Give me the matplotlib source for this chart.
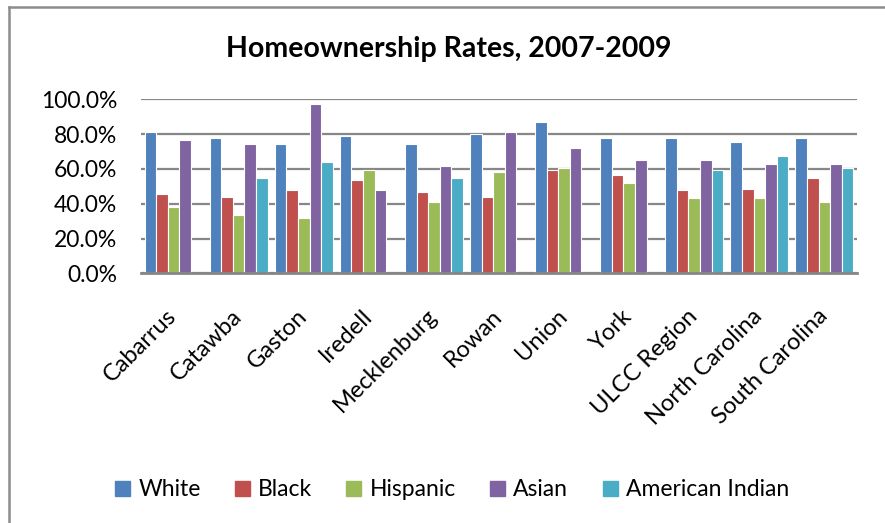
import matplotlib
matplotlib.use("Agg")
import matplotlib.pyplot as plt
from matplotlib.lines import Line2D
from matplotlib.ticker import FuncFormatter, MultipleLocator
from matplotlib.transforms import ScaledTranslation
import numpy as np

plt.rcParams['font.family'] = ['Lato', 'DejaVu Sans']

categories = ["Cabarrus", "Catawba", "Gaston", "Iredell", "Mecklenburg", "Rowan",
              "Union", "York", "ULCC Region", "North Carolina", "South Carolina"]
series_names = ["White", "Black", "Hispanic", "Asian", "American Indian"]

nan = np.nan
white = [81.0, 77.6, 74.1, 78.7, 74.1, 79.9, 86.8, 77.6, 77.6, 75.3, 77.6]
black = [45.4, 44.0, 47.7, 53.4, 46.6, 44.0, 59.2, 56.7, 47.7, 48.6, 54.6]
hispanic = [38.3, 33.7, 31.6, 59.2, 40.8, 58.0, 60.3, 52.1, 43.1, 43.1, 40.8]
asian = [76.4, 74.1, 97.1, 47.7, 61.5, 81.0, 71.8, 64.9, 64.9, 62.6, 62.6]
american_indian = [nan, 54.6, 63.8, nan, 54.6, nan, nan, nan, 59.2, 67.2, 60.3]

series = [white, black, hispanic, asian, american_indian]
colors = ["#4F81BD", "#C0504D", "#9BBB59", "#8064A2", "#4BACC6"]

W, H = 885, 523
DPI = 100
fig = plt.figure(figsize=(W / DPI, H / DPI), dpi=DPI)
fig.patch.set_facecolor("white")

ax = fig.add_axes([141 / W, 1 - 273.3 / H, (857 - 141) / W, (273.3 - 99.3) / H])

x = np.arange(len(categories))
bw = 0.178
for i, (vals, c, name) in enumerate(zip(series, colors, series_names)):
    v = np.array(vals, dtype=float) / 100.0
    ax.bar(x + (i - 2) * bw, v, width=bw, color=c, edgecolor="white",
           linewidth=0.8, label=name, zorder=3)

ax.set_xlim(-0.5, len(categories) - 0.5)
ax.set_ylim(0, 1.0)
ax.yaxis.set_major_locator(MultipleLocator(0.2))
ax.yaxis.set_major_formatter(FuncFormatter(lambda v, p: f"{v * 100:.1f}%"))
ax.grid(axis="y", color="#878787", linewidth=1.6, zorder=0)
ax.set_axisbelow(True)

for s in ["top", "right", "left"]:
    ax.spines[s].set_visible(False)
ax.spines["bottom"].set_color("#868686")
ax.spines["bottom"].set_linewidth(2)
ax.spines["bottom"].set_zorder(4)

px = 72 / DPI  # points per pixel
ax.tick_params(axis="y", length=0, pad=24 * px, labelsize=16.5)
ax.tick_params(axis="x", length=0, pad=44 * px, labelsize=17)
ax.set_xticks(x)
ax.set_xticklabels(categories, rotation=45, ha="right", va="baseline",
                   rotation_mode="anchor")
shift = ScaledTranslation(4.5 / DPI, 0, fig.dpi_scale_trans)
for lab in ax.get_xticklabels():
    lab.set_transform(lab.get_transform() + shift)

fig.text(449 / W, 1 - 57 / H, "Homeownership Rates, 2007-2009",
         ha="center", va="baseline", fontsize=20.5, fontweight="bold")

handles = [plt.Rectangle((0, 0), 1, 1, color=c) for c in colors]
fig.legend(handles, series_names, loc="center", bbox_to_anchor=(452 / W, 1 - 490 / H),
           ncol=5, frameon=False, fontsize=16.5, handlelength=0.655, handleheight=0.655,
           handletextpad=0.35, columnspacing=1.5, borderpad=0, borderaxespad=0)

# chart frame (top and left edges)
fig.add_artist(Line2D([9 / W, 9 / W], [0, 1 - 7 / H], transform=fig.transFigure,
                      color="#8c8c8c", linewidth=1.8))
fig.add_artist(Line2D([9 / W, 1], [1 - 7 / H, 1 - 7 / H], transform=fig.transFigure,
                      color="#8c8c8c", linewidth=1.8))

fig.savefig("out.png", dpi=DPI)
